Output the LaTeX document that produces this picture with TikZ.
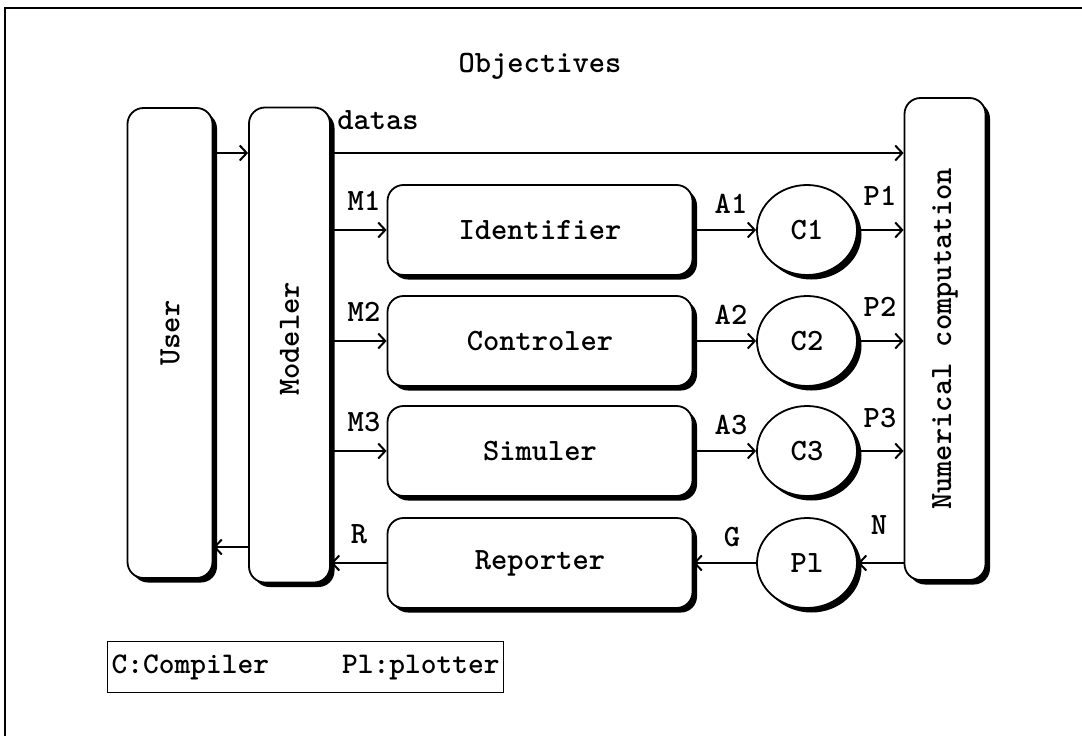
\documentclass[tikz,border=0pt]{standalone}
\usetikzlibrary{arrows.meta,shadows,shapes.geometric}
\newcommand{\dfont}{\fontsize{31}{36}\selectfont\ttfamily\bfseries}
\newcommand{\legfont}{\fontsize{30}{34}\selectfont\ttfamily\bfseries}
\begin{document}
\begin{tikzpicture}[x=1pt,y=-1pt,
  every node/.style={font=\dfont},
  blk/.style={draw, line width=1.8pt, rounded corners=16pt, fill=white, inner sep=0pt,
    general shadow={fill=black, shadow xshift=4.5pt, shadow yshift=-4.5pt}},
  circ/.style={draw, ellipse, line width=1.8pt, minimum width=100pt, minimum height=90pt,
    fill=white, inner sep=0pt,
    general shadow={fill=black, shadow xshift=4.5pt, shadow yshift=-4.5pt}},
  arr/.style={line width=2.4pt, -{Straight Barb[length=7pt,width=15pt,line width=2pt]}},
  lbl/.style={inner sep=0pt}]
\useasboundingbox (0,0) rectangle (1082,736);
\fill[white] (0,0) rectangle (1082,736);
% outer frame (open to the right and bottom)
\draw[line width=1.5pt] (5,736) -- (5,8) -- (1082,8);

% tall blocks (leading space lifts the rotated caption a little)
\node[blk, minimum width=85pt, minimum height=470pt] (user) at (170,343) {\rotatebox{90}{\hspace{20pt}User}};
\node[blk, minimum width=81pt, minimum height=475pt] (modeler) at (289.5,345) {\rotatebox{90}{\hspace{12pt}Modeler}};
\node[blk, minimum width=81pt, minimum height=482pt] (numer) at (945,339) {\rotatebox{90}{Numerical computation}};

% processing blocks
\node[blk, minimum width=305pt, minimum height=90pt] (ident) at (540,230) {Identifier};
\node[blk, minimum width=305pt, minimum height=90pt] (contr) at (540,341) {Controler};
\node[blk, minimum width=305pt, minimum height=90pt] (simul) at (540,451) {Simuler};
\node[blk, minimum width=305pt, minimum height=90pt] (repor) at (540,563) {Reporter};

% compilers and plotter
\node[circ] (c1) at (807,230) {C1};
\node[circ] (c2) at (807,341) {C2};
\node[circ] (c3) at (807,451) {C3};
\node[circ] (pl) at (807,563) {Pl};

% titles
\node (obj) at (540,66) {Objectives};
\node (datas) at (378,120) {datas};

% connectors
\draw[arr] (user.east |- 0,153) -- (modeler.west |- 0,153);
\draw[arr] (modeler.east |- 0,153) -- (numer.west |- 0,153);
\draw[arr] (modeler.west |- 0,547) -- (user.east |- 0,547);

\draw[arr] (modeler.east |- ident.west) -- (ident.west);
\draw[arr] (modeler.east |- contr.west) -- (contr.west);
\draw[arr] (modeler.east |- simul.west) -- (simul.west);
\draw[arr] (repor.west) -- (modeler.east |- repor.west);

\draw[arr] (ident.east) -- (c1.west);
\draw[arr] (contr.east) -- (c2.west);
\draw[arr] (simul.east) -- (c3.west);
\draw[arr] (pl.west) -- (repor.east);

\draw[arr] (c1.east) -- (numer.west |- c1.east);
\draw[arr] (c2.east) -- (numer.west |- c2.east);
\draw[arr] (c3.east) -- (numer.west |- c3.east);
\draw[arr] (numer.west |- pl.east) -- (pl.east);

% connector labels
\node[lbl] (m1) at (364,201) {M1};
\node[lbl] (m2) at (364,312) {M2};
\node[lbl] (m3) at (364,422) {M3};
\node[lbl] (a1) at (731,204) {A1};
\node[lbl] (a2) at (731,315) {A2};
\node[lbl] (a3) at (731,425) {A3};
\node[lbl] (p1) at (880,196) {P1};
\node[lbl] (p2) at (880,307) {P2};
\node[lbl] (p3) at (880,418) {P3};
\node[lbl] (n) at (879,525) {N};
\node[lbl] (g) at (732,537) {G};
\node[lbl] (r) at (359,534) {R};

% legend
\node[draw, line width=1.3pt, anchor=west, minimum height=51pt, inner xsep=4pt, font=\legfont] (legend) at (107,667)
  {C:Compiler\hspace{73pt}Pl:plotter};
\end{tikzpicture}
\end{document}
